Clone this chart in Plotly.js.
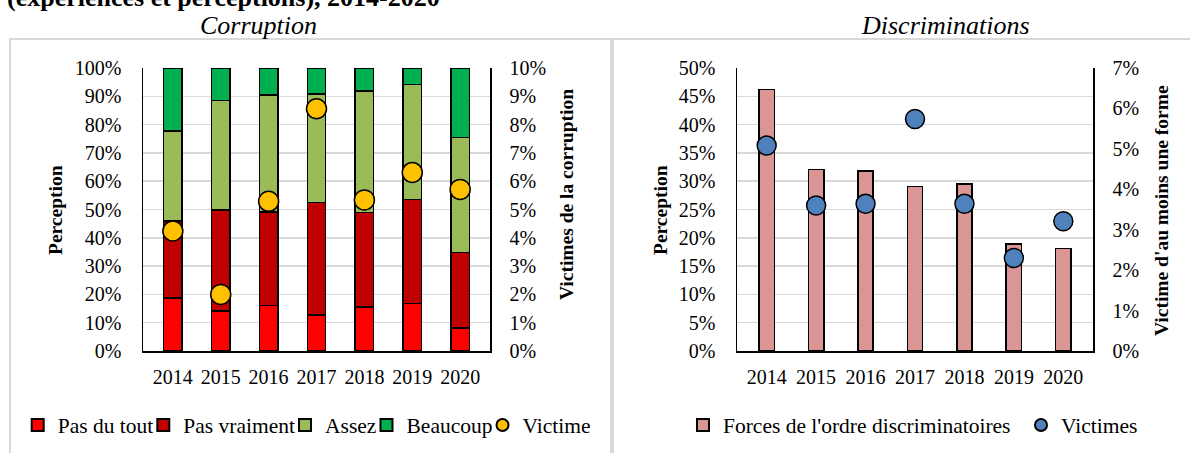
<!DOCTYPE html>
<html>
<head>
<meta charset="utf-8">
<script src="https://cdn.plot.ly/plotly-3.0.1.min.js"></script>
<style>html,body{margin:0;padding:0;background:#fff;}#chart{width:1190px;height:453px;}</style>
</head>
<body>
<div id="chart"></div>
<script>
// ---- Data ----
var years = ['2014', '2015', '2016', '2017', '2018', '2019', '2020'];
var pasDuTout   = [0.188, 0.141, 0.160, 0.128, 0.156, 0.168, 0.082];
var pasVraiment = [0.271, 0.357, 0.332, 0.396, 0.333, 0.368, 0.266];
var assez       = [0.319, 0.387, 0.412, 0.385, 0.430, 0.405, 0.407];
var beaucoup    = [0.222, 0.115, 0.096, 0.091, 0.081, 0.059, 0.245];
var victimeCorruption = [0.0424, 0.0200, 0.0529, 0.0856, 0.0534, 0.0631, 0.0571];
var forcesDiscrim   = [0.462, 0.321, 0.318, 0.291, 0.295, 0.189, 0.181];
var victimesDiscrim = [0.0508, 0.0360, 0.0364, 0.0574, 0.0364, 0.0230, 0.0321];

var W = 1190, H = 453;
function px(x) { return x / W; }
function py(y) { return 1 - y / H; }

var FONT = 'Liberation Serif, Times New Roman, serif';
var black = '#000000';
var grid = '#d9d9d9';
var barLine = {color: black, width: 1.5};

var traces = [
  {type: 'bar', name: 'Pas du tout', x: years, y: pasDuTout, xaxis: 'x', yaxis: 'y', width: 0.385,
   marker: {color: '#FF0000', line: barLine}, legend: 'legend'},
  {type: 'bar', name: 'Pas vraiment', x: years, y: pasVraiment, xaxis: 'x', yaxis: 'y', width: 0.385,
   marker: {color: '#C00000', line: barLine}, legend: 'legend2'},
  {type: 'bar', name: 'Assez', x: years, y: assez, xaxis: 'x', yaxis: 'y', width: 0.385,
   marker: {color: '#9BBB59', line: barLine}, legend: 'legend3'},
  {type: 'bar', name: 'Beaucoup', x: years, y: beaucoup, xaxis: 'x', yaxis: 'y', width: 0.385,
   marker: {color: '#00B050', line: barLine}, legend: 'legend4'},
  {type: 'scatter', mode: 'markers', name: 'Victime', x: years, y: victimeCorruption, xaxis: 'x', yaxis: 'y2',
   marker: {color: '#FFC000', size: 20, line: {color: black, width: 1.5}}, legend: 'legend5'},
  {type: 'bar', name: "Forces de l'ordre discriminatoires", x: years, y: forcesDiscrim, xaxis: 'x2', yaxis: 'y3', width: 0.31,
   marker: {color: '#D99694', line: barLine}, legend: 'legend6'},
  {type: 'scatter', mode: 'markers', name: 'Victimes', x: years, y: victimesDiscrim, xaxis: 'x2', yaxis: 'y4',
   marker: {color: '#4F81BD', size: 19, line: {color: black, width: 1.5}}, legend: 'legend7'}
];

var tickFont = {family: FONT, size: 20, color: black};
var yDom = [py(351), py(68)];

function xAx(dom, anchor) {
  return {domain: dom, anchor: anchor, type: 'category', showline: true, linecolor: black, linewidth: 1.5,
          ticks: '', showgrid: false, zeroline: false, tickfont: tickFont, ticklabelstandoff: 7, fixedrange: true};
}
function yAxL(range, dtick, anchor) {
  return {domain: yDom, anchor: anchor, range: range, dtick: dtick, tickformat: '.0%', showline: true,
          linecolor: black, linewidth: 1.5, showgrid: true, gridcolor: grid, gridwidth: 1.5, zeroline: false,
          ticks: '', tickfont: tickFont, ticklabelstandoff: 16, fixedrange: true};
}
function yAxR(range, dtick, anchor, over) {
  return {domain: yDom, anchor: anchor, overlaying: over, side: 'right', range: range, dtick: dtick, tickformat: '.0%',
          showline: true, linecolor: black, linewidth: 1.5, showgrid: false, zeroline: false, ticks: '',
          tickfont: tickFont, ticklabelstandoff: 14, fixedrange: true};
}

function leg(xLeft) {
  return {x: px(xLeft), xanchor: 'left', y: py(425), yanchor: 'middle', orientation: 'h',
          font: {family: 'Liberation Serif', size: 21.5, color: black}, bgcolor: 'rgba(0,0,0,0)', itemsizing: 'constant',
          borderwidth: 0, itemclick: false, itemdoubleclick: false};
}

var titleFont = {family: FONT, size: 19.5, color: black};
var annotations = [
  {text: '<b>(expériences et perceptions), 2014-2020</b>', x: px(5), y: py(14), xref: 'paper', yref: 'paper',
   xanchor: 'left', yanchor: 'bottom', showarrow: false, font: {family: FONT, size: 26, color: black}},
  {text: '<i>Corruption</i>', x: px(258), y: py(26), xref: 'paper', yref: 'paper', xanchor: 'center', yanchor: 'middle',
   showarrow: false, font: {family: FONT, size: 26, color: black}},
  {text: '<i>Discriminations</i>', x: px(945), y: py(26), xref: 'paper', yref: 'paper', xanchor: 'center', yanchor: 'middle',
   showarrow: false, font: {family: FONT, size: 26, color: black}},
  {text: '<b>Perception</b>', x: px(56), y: py(210), xref: 'paper', yref: 'paper', xanchor: 'center', yanchor: 'middle',
   textangle: -90, showarrow: false, font: titleFont},
  {text: '<b>Victimes de la corruption</b>', x: px(566), y: py(195), xref: 'paper', yref: 'paper', xanchor: 'center', yanchor: 'middle',
   textangle: -90, showarrow: false, font: titleFont},
  {text: '<b>Perception</b>', x: px(661), y: py(210), xref: 'paper', yref: 'paper', xanchor: 'center', yanchor: 'middle',
   textangle: -90, showarrow: false, font: titleFont},
  {text: "<b>Victime d'au moins une forme</b>", x: px(1162), y: py(211), xref: 'paper', yref: 'paper', xanchor: 'center', yanchor: 'middle',
   textangle: -90, showarrow: false, font: titleFont}
];

var shapes = [
  {type: 'rect', xref: 'paper', yref: 'paper', x0: px(10), x1: px(611), y0: py(39), y1: py(480),
   line: {color: '#d9d9d9', width: 2}, layer: 'below'},
  {type: 'rect', xref: 'paper', yref: 'paper', x0: px(613), x1: px(1210), y0: py(39), y1: py(480),
   line: {color: '#d9d9d9', width: 2}, layer: 'below'}
];

var layout = {
  width: W, height: H,
  margin: {l: 0, r: 0, t: 0, b: 0},
  paper_bgcolor: '#ffffff', plot_bgcolor: 'rgba(0,0,0,0)',
  barmode: 'stack',
  font: {family: FONT, color: black},
  showlegend: true,
  xaxis: xAx([px(143), px(490)], 'y'),
  yaxis: yAxL([0, 1], 0.1, 'x'),
  yaxis2: yAxR([0, 0.1], 0.01, 'x', 'y'),
  xaxis2: xAx([px(737), px(1093)], 'y3'),
  yaxis3: yAxL([0, 0.5], 0.05, 'x2'),
  yaxis4: yAxR([0, 0.07], 0.01, 'x2', 'y3'),
  legend: leg(17.7),
  legend2: leg(143.3),
  legend3: leg(285),
  legend4: leg(366.5),
  legend5: leg(482.5),
  legend6: leg(683),
  legend7: leg(1021),
  annotations: annotations,
  shapes: shapes
};

Plotly.newPlot('chart', traces, layout, {displayModeBar: false, staticPlot: true});
</script>
</body>
</html>
